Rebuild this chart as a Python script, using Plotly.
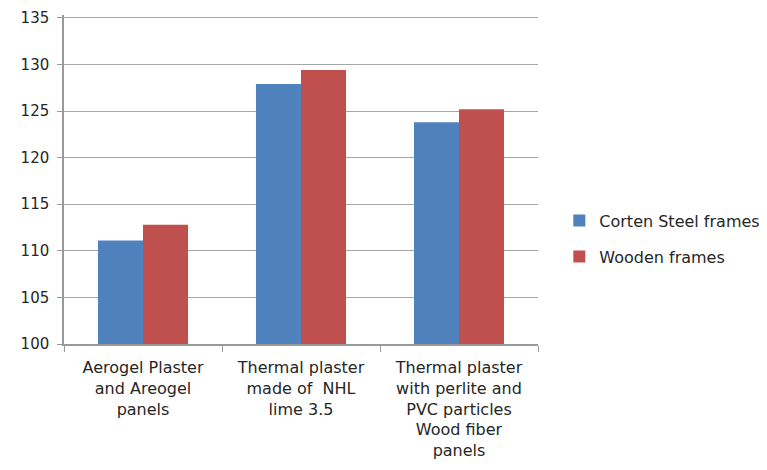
import plotly.graph_objects as go

categories = [
    "Aerogel Plaster<br>and Areogel<br>panels",
    "Thermal plaster<br>made of  NHL<br>lime 3.5",
    "Thermal plaster<br>with perlite and<br>PVC particles<br>Wood fiber<br>panels",
]
corten = [111.1, 127.9, 123.8]
wooden = [112.8, 129.4, 125.2]
y_ticks = [100, 105, 110, 115, 120, 125, 130, 135]

font = dict(family="DejaVu Sans", size=16, color="#262626")
yfont = dict(family="DejaVu Sans", size=15, color="#262626")

fig = go.Figure()
fig.add_trace(go.Bar(name="Corten Steel frames", x=categories, y=corten,
                     marker=dict(color="#4F81BD", line=dict(width=0)),
                     legendgroup="a"))
fig.add_trace(go.Bar(name="Wooden frames", x=categories, y=wooden,
                     marker=dict(color="#C0504D", line=dict(width=0)),
                     legendgroup="b"))

fig.update_layout(
    width=767, height=470,
    margin=dict(l=56, r=237, t=7, b=134, autoexpand=False),
    paper_bgcolor="white", plot_bgcolor="white",
    font=font,
    barmode="group",
    bargap=0.43, bargroupgap=0,
    legend=dict(x=1.045, xanchor="left", y=0.32, yanchor="middle",
                font=dict(family="DejaVu Sans", size=16, color="#262626"),
                tracegroupgap=12, traceorder="grouped",
                itemwidth=30),
    showlegend=True,
)
fig.update_xaxes(
    type="category", automargin=False,
    showline=True, linecolor="#999999", linewidth=1.5,
    ticks="outside", tickson="boundaries", ticklen=6, tickcolor="#999999",
    ticklabelstandoff=8,
    showgrid=False,
    tickfont=font,
)
fig.update_yaxes(
    range=[100, 135.3], tickvals=y_ticks, automargin=False,
    showline=True, linecolor="#999999", linewidth=1.5,
    ticks="outside", ticklen=5, tickcolor="#999999",
    ticklabelstandoff=5, ticklabeloverflow="allow",
    showgrid=True, gridcolor="#A6A6A6", gridwidth=1.2,
    zeroline=False,
    tickfont=yfont,
)

fig.write_html("out.html")
